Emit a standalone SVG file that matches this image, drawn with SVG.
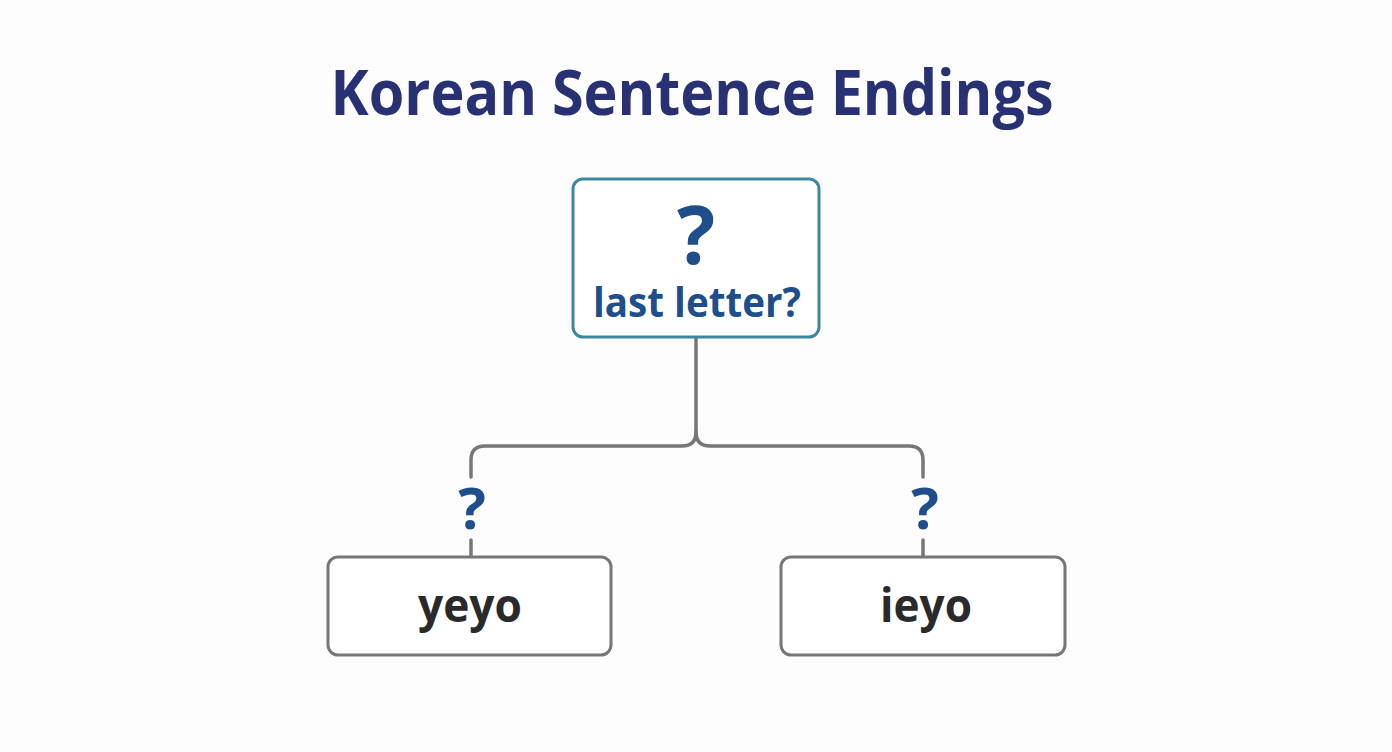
<svg xmlns="http://www.w3.org/2000/svg" width="1392" height="752" viewBox="0 0 1392 752">
<style>
text{font-family:"Open Sans","Liberation Sans",sans-serif;font-weight:700;text-anchor:middle}
.title{font-size:63px;fill:#283173}
.q{fill:#1e4e8c}
.box{fill:#fff;stroke:#777;stroke-width:3}
.conn{fill:none;stroke:#777;stroke-width:3.5;stroke-linecap:round;stroke-linejoin:round}
.leaf{font-size:46px;fill:#2a2a2a}
</style>
<rect width="1392" height="752" fill="#fdfdfd"/>
<text class="title" x="692" y="115" textLength="723" lengthAdjust="spacingAndGlyphs">Korean Sentence Endings</text>
<g id="conn">
<path class="conn" d="M696 338 V432 Q696 446 682 446 H485 Q471 446 471 460 V477"/>
<path class="conn" d="M696 432 Q696 446 710 446 H909 Q923 446 923 460 V477"/>
<path class="conn" d="M471 540 V557"/>
<path class="conn" d="M923 540 V557"/>
<text class="q" x="472" y="529" font-size="58" fill="#1f3f7c">?</text>
<text class="q" x="925" y="529" font-size="58" fill="#1f3f7c">?</text>
</g>
<g id="root">
<rect x="573" y="179" width="246" height="158" rx="10" fill="#fff" stroke="#3c87a2" stroke-width="3"/>
<text class="q" x="696" y="264" font-size="80">?</text>
<text class="q" x="697" y="317" font-size="41" textLength="208" lengthAdjust="spacingAndGlyphs">last letter?</text>
</g>
<g id="yeyo">
<rect class="box" x="328" y="557" width="283" height="98" rx="10"/>
<text class="leaf" x="470" y="622" textLength="104" lengthAdjust="spacingAndGlyphs">yeyo</text>
</g>
<g id="ieyo">
<rect class="box" x="781" y="557" width="284" height="98" rx="10"/>
<text class="leaf" x="926" y="622" textLength="92" lengthAdjust="spacingAndGlyphs">ieyo</text>
</g>
</svg>
